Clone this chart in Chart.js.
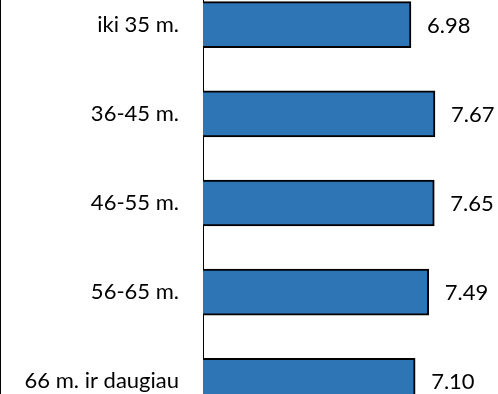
<!DOCTYPE html>
<html>
<head>
<meta charset="utf-8">
<script src="https://cdn.jsdelivr.net/npm/chart.js@4"></script>
<style>
  html, body { margin: 0; padding: 0; background: #fff; overflow: hidden; width: 498px; height: 394px; }
  #frame { position: absolute; left: 0; top: 0; width: 1px; height: 394px; background: #000; }
  #chart { position: absolute; left: 0; top: -20px; }
</style>
</head>
<body>
<canvas id="chart" width="540" height="446"></canvas>
<div id="frame"></div>
<script>
// Age groups and their average scores
const categories = ['iki 35 m.', '36-45 m.', '46-55 m.', '56-65 m.', '66 m. ir daugiau'];
const scores = [6.98, 7.67, 7.65, 7.49, 7.10];
const scaleMin = 1;
const scaleMax = 10;

const FONT = { family: 'Lato, "Open Sans", sans-serif', size: 22 };

// Writes each bar's value just past its end
const valueLabels = {
  id: 'valueLabels',
  afterDatasetsDraw(chart) {
    const ctx = chart.ctx;
    const meta = chart.getDatasetMeta(0);
    ctx.save();
    ctx.font = FONT.size + 'px ' + FONT.family;
    ctx.fillStyle = '#000';
    ctx.textAlign = 'left';
    ctx.textBaseline = 'middle';
    meta.data.forEach((bar, i) => {
      const v = chart.data.datasets[0].data[i];
      ctx.fillText(v.toFixed(2), bar.x + 16, bar.y + 1);
    });
    ctx.restore();
  }
};

new Chart(document.getElementById('chart'), {
  type: 'bar',
  data: {
    labels: categories,
    datasets: [{
      data: scores,
      backgroundColor: '#2E75B6',
      borderColor: '#000',
      borderWidth: 2,
      borderSkipped: false,
      barThickness: 46
    }]
  },
  options: {
    indexAxis: 'y',
    responsive: false,
    animation: false,
    layout: { padding: { left: 0, right: 24, top: 0, bottom: 0 } },
    plugins: { legend: { display: false }, tooltip: { enabled: false } },
    scales: {
      x: {
        display: false,
        min: scaleMin,
        max: scaleMax
      },
      y: {
        grid: { display: false, drawTicks: false },
        border: { display: true, color: '#000', width: 1 },
        ticks: { color: '#000', font: FONT, padding: 24 },
        afterFit(scale) {
          scale.width = 203;
          scale.paddingTop = 0;
          scale.paddingBottom = 0;
        }
      }
    }
  },
  plugins: [valueLabels]
});
</script>
</body>
</html>
